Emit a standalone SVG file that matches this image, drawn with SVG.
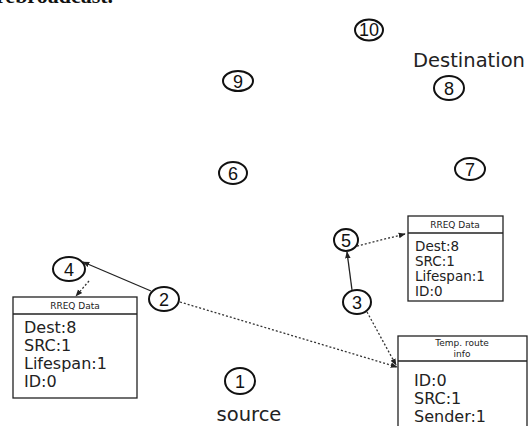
<svg xmlns="http://www.w3.org/2000/svg" width="530" height="426" viewBox="0 0 530 426">
<defs>
<style>
.n{fill:none;stroke:#111;stroke-width:2}
.num{font-family:"Liberation Sans",Arial,sans-serif;font-size:18px;fill:#111;text-anchor:middle}
.box{fill:#fff;stroke:#222;stroke-width:1.3}
.hd{font-family:"DejaVu Sans",Verdana,sans-serif;font-size:9px;fill:#222;text-anchor:middle}
.tx{font-family:"DejaVu Sans",Verdana,sans-serif;font-size:13.5px;fill:#222}
.tl{font-family:"DejaVu Sans",Verdana,sans-serif;font-size:16px;fill:#222}
.solid{stroke:#222;stroke-width:1.3;fill:none}
.dot{stroke:#333;stroke-width:1.3;fill:none;stroke-dasharray:2 2}
.lbl{font-family:"DejaVu Sans",Verdana,sans-serif;fill:#222;text-anchor:middle}
</style>
<marker id="ah" viewBox="0 0 10 10" refX="9" refY="5" markerWidth="7" markerHeight="7" orient="auto" markerUnits="userSpaceOnUse">
<path d="M0,1 L10,5 L0,9 z" fill="#222"/>
</marker>
</defs>
<rect width="530" height="426" fill="#fff"/>
<text x="-4" y="3" font-family="Liberation Serif,serif" font-size="22" font-weight="bold" fill="#111">rebroadcast.</text>

<g id="n10"><ellipse class="n" cx="369" cy="30" rx="14" ry="10.5"/><text class="num" x="369" y="36" font-size="16.5">10</text></g>
<g id="n8"><text class="lbl" x="469" y="67" font-size="19.5">Destination</text><ellipse class="n" cx="449" cy="88" rx="15" ry="12" stroke="#8b1f1f"/><text class="num" x="449" y="94.5">8</text></g>
<g id="n9"><ellipse class="n" cx="238" cy="81" rx="15" ry="10"/><text class="num" x="238" y="87.5">9</text></g>
<g id="n6"><ellipse class="n" cx="233" cy="173" rx="14" ry="11"/><text class="num" x="233" y="179.5">6</text></g>
<g id="n7"><ellipse class="n" cx="470" cy="169" rx="15" ry="11"/><text class="num" x="470" y="175.5">7</text></g>
<g id="n5"><ellipse class="n" cx="346" cy="240" rx="12" ry="11"/><text class="num" x="346" y="246.5">5</text></g>
<g id="n4"><ellipse class="n" cx="69" cy="269" rx="16" ry="12"/><text class="num" x="69" y="275.5">4</text></g>
<g id="n2"><ellipse class="n" cx="164" cy="299" rx="15" ry="12"/><text class="num" x="164" y="305.5">2</text></g>
<g id="n3"><ellipse class="n" cx="357" cy="302" rx="14" ry="12"/><text class="num" x="357" y="308.5">3</text></g>
<g id="n1"><ellipse class="n" cx="240" cy="381" rx="15" ry="13" stroke="#1f2a6b"/><text class="num" x="240" y="387.5">1</text><text class="lbl" x="249" y="421" font-size="19.5">source</text></g>

<g id="rreq1">
<rect class="box" x="408" y="216" width="95" height="85"/>
<line class="solid" x1="408" y1="233" x2="503" y2="233"/>
<text class="hd" x="455" y="228">RREQ Data</text>
<text class="tx" x="415" y="251">Dest:8</text>
<text class="tx" x="415" y="266">SRC:1</text>
<text class="tx" x="415" y="281">Lifespan:1</text>
<text class="tx" x="415" y="296">ID:0</text>
</g>
<g id="rreq2">
<rect class="box" x="13" y="297" width="124" height="101"/>
<line class="solid" x1="13" y1="314" x2="137" y2="314"/>
<text class="hd" x="75" y="309">RREQ Data</text>
<text class="tl" x="24" y="333">Dest:8</text>
<text class="tl" x="24" y="351">SRC:1</text>
<text class="tl" x="24" y="369">Lifespan:1</text>
<text class="tl" x="24" y="387">ID:0</text>
</g>
<g id="temp">
<rect class="box" x="398" y="336" width="129" height="95"/>
<line class="solid" x1="398" y1="361" x2="527" y2="361"/>
<text class="hd" x="462" y="346">Temp. route</text>
<text class="hd" x="462" y="357">info</text>
<text class="tl" x="414" y="386">ID:0</text>
<text class="tl" x="414" y="404">SRC:1</text>
<text class="tl" x="414" y="422">Sender:1</text>
</g>

<g id="connectors">
<line class="solid" x1="151" y1="291" x2="83" y2="262" marker-end="url(#ah)"/>
<line class="dot" x1="89" y1="281" x2="76" y2="296" marker-end="url(#ah)"/>
<line class="dot" x1="180" y1="302" x2="397" y2="367" marker-end="url(#ah)"/>
<line class="dot" x1="367" y1="312" x2="396" y2="365" marker-end="url(#ah)"/>
<line class="solid" x1="352" y1="290" x2="347" y2="252" marker-end="url(#ah)"/>
<line class="dot" x1="357" y1="246" x2="405" y2="234" marker-end="url(#ah)"/>
</g>
</svg>
